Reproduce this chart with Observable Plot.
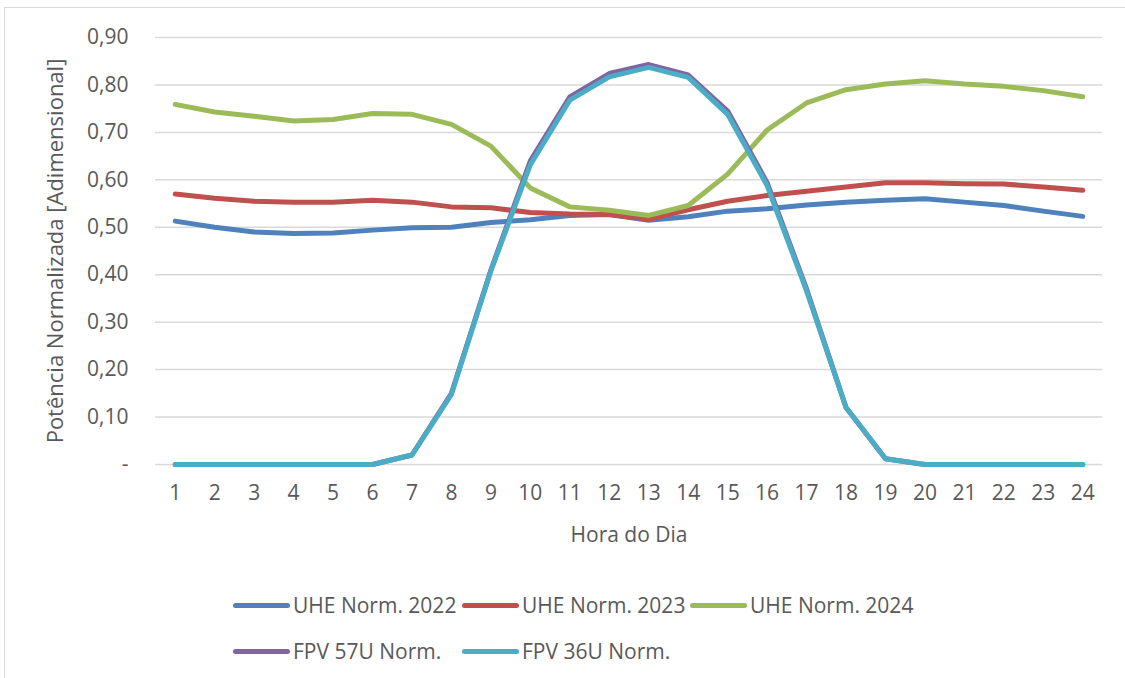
<!DOCTYPE html>
<html><head><meta charset="utf-8">
<script src="https://cdn.jsdelivr.net/npm/d3@7"></script>
<script src="https://cdn.jsdelivr.net/npm/@observablehq/plot@0.6"></script>
<style>
body{margin:0;background:#fff;font-family:"Open Sans",sans-serif;}
#wrap{position:relative;width:1125px;height:678px;overflow:hidden;background:#fff;}
#frame{position:absolute;left:4px;top:7px;right:-10px;bottom:-10px;border-top:1.5px solid #d9d9d9;border-left:1.5px solid #d9d9d9;}
#chart{position:absolute;left:0;top:0;}
#legend{position:absolute;left:233px;top:582px;display:grid;grid-template-columns:229px 228px auto;grid-auto-rows:46px;align-items:center;font-size:21px;color:#595959;}
.item{display:flex;align-items:center;white-space:nowrap;}
.sw{width:57px;height:5px;border-radius:3px;margin-right:3px;}
</style></head><body>
<div id="wrap"><div id="frame"></div><div id="chart"></div><div id="legend"></div></div>
<script>
const hours = [1,2,3,4,5,6,7,8,9,10,11,12,13,14,15,16,17,18,19,20,21,22,23,24];
const seriesNames = ["UHE Norm. 2022","UHE Norm. 2023","UHE Norm. 2024","FPV 57U Norm.","FPV 36U Norm."];
const seriesColors = ["#4F81BD","#C0504D","#9BBB59","#8064A2","#4BACC6"];
const uhe2022 = [0.513,0.500,0.490,0.487,0.488,0.494,0.499,0.500,0.510,0.516,0.525,0.527,0.515,0.522,0.534,0.539,0.547,0.553,0.557,0.560,0.553,0.546,0.534,0.523];
const uhe2023 = [0.570,0.561,0.555,0.553,0.553,0.557,0.553,0.543,0.541,0.531,0.528,0.527,0.517,0.537,0.555,0.567,0.576,0.585,0.594,0.594,0.592,0.591,0.585,0.578];
const uhe2024 = [0.759,0.743,0.734,0.724,0.727,0.740,0.738,0.717,0.671,0.583,0.543,0.536,0.525,0.546,0.612,0.705,0.762,0.790,0.802,0.809,0.802,0.797,0.788,0.775];
const fpv57 = [0,0,0,0,0,0,0.020,0.150,0.410,0.640,0.775,0.824,0.843,0.821,0.745,0.594,0.370,0.120,0.012,0,0,0,0,0];
const fpv36 = [0,0,0,0,0,0,0.020,0.148,0.408,0.632,0.768,0.817,0.837,0.816,0.738,0.588,0.366,0.120,0.012,0,0,0,0,0];
const yTicks = [0,0.1,0.2,0.3,0.4,0.5,0.6,0.7,0.8,0.9];

const allSeries = [uhe2022, uhe2023, uhe2024, fpv57, fpv36];
const data = [];
allSeries.forEach((vals, i) => vals.forEach((v, j) => data.push({series: seriesNames[i], hour: hours[j], value: v})));

const chart = Plot.plot({
  width: 1125, height: 570,
  marginTop: 37, marginBottom: 106, marginLeft: 155, marginRight: 23,
  style: {fontFamily: "'Open Sans', sans-serif", fontSize: "21px", color: "#595959", background: "transparent"},
  x: {type: "point", domain: hours, padding: 0.5, round: false},
  y: {domain: [0, 0.9]},
  color: {domain: seriesNames, range: seriesColors},
  marks: [
    Plot.gridY(yTicks, {stroke: "#d9d9d9", strokeOpacity: 1, strokeWidth: 1.5}),
    Plot.axisY({ticks: yTicks, tickSize: 0, tickPadding: 27, label: null,
      tickFormat: d => d === 0 ? "-" : d.toFixed(2).replace(".", ","), fontSize: 21}),
    Plot.axisY({ticks: [], tickSize: 0, label: "Potência Normalizada [Adimensional]", labelAnchor: "center", labelArrow: false, labelOffset: 108, fontSize: 22}),
    Plot.axisX({tickSize: 0, tickPadding: 21, label: "Hora do Dia", labelAnchor: "center", labelArrow: false, labelOffset: 77, fontSize: 21}),
    Plot.lineY(data, {x: "hour", y: "value", z: "series", stroke: "series", strokeWidth: 5, strokeLinecap: "round", strokeLinejoin: "round"})
  ]
});
document.getElementById("chart").appendChild(chart);

const legend = document.getElementById("legend");
seriesNames.forEach((name, i) => {
  const it = document.createElement("div");
  it.className = "item";
  it.innerHTML = `<span class="sw" style="background:${seriesColors[i]}"></span><span>${name}</span>`;
  legend.appendChild(it);
});
</script>
</body></html>
